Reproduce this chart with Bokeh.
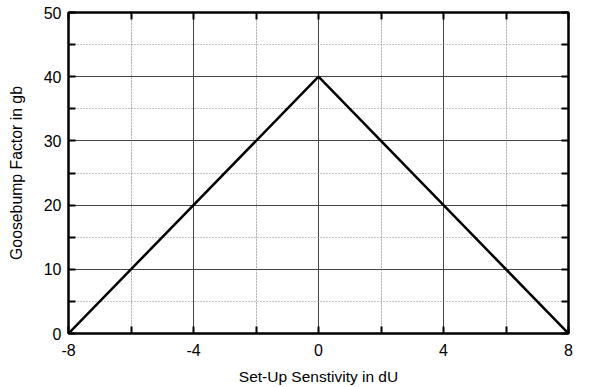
from bokeh.plotting import figure
from bokeh.models import LinearAxis, FixedTicker, Grid, Range1d
from bokeh.embed import file_html
from bokeh.resources import INLINE

# data
x_vals = [-8, 0, 8]
y_vals = [0, 40, 0]
x_major = [-8, -4, 0, 4, 8]
x_minor = [-6, -2, 2, 6]
y_major = [0, 10, 20, 30, 40, 50]
y_minor = [5, 15, 25, 35, 45]
x_labels = {-8: "-8", -4: "-4", 0: "0", 4: "4", 8: "8"}
x_title = "Set-Up Senstivity in dU"
y_title = "Goosebump Factor in gb"

FONT = "Liberation Sans"

p = figure(width=600, height=387, x_range=Range1d(-8, 8), y_range=Range1d(0, 50),
           output_backend="svg", toolbar_location=None,
           x_axis_location=None, y_axis_location=None)
p.min_border_left = 68
p.min_border_right = 32
p.min_border_top = 12
p.min_border_bottom = 53
p.background_fill_color = "white"
p.border_fill_color = "white"
p.outline_line_color = "black"
p.outline_line_width = 2

xt = FixedTicker(ticks=x_major, minor_ticks=x_minor)
yt = FixedTicker(ticks=y_major, minor_ticks=y_minor)


def style_axis(ax, labels=True):
    ax.axis_line_color = "black"
    ax.axis_line_width = 2
    ax.major_tick_in = 7
    ax.major_tick_out = 0
    ax.minor_tick_in = 7
    ax.minor_tick_out = 0
    ax.major_tick_line_color = "black"
    ax.minor_tick_line_color = "black"
    ax.major_tick_line_width = 2
    ax.minor_tick_line_width = 2
    if labels:
        ax.major_label_text_font = FONT
        ax.major_label_text_font_size = "16px"
        ax.major_label_text_color = "black"
        ax.axis_label_text_font = FONT
        ax.axis_label_text_font_size = "15.5px"
        ax.axis_label_text_font_style = "normal"
        ax.axis_label_text_color = "black"
    else:
        ax.major_label_text_font_size = "0px"
        ax.major_label_text_color = None
        ax.major_label_standoff = 0


bottom = LinearAxis(ticker=xt, axis_label=x_title, major_label_overrides=x_labels)
style_axis(bottom)
bottom.major_label_standoff = 10
bottom.axis_label_standoff = 9
left = LinearAxis(ticker=yt, axis_label=y_title)
style_axis(left)
left.major_label_standoff = 7
left.axis_label_standoff = 16
left.axis_label_text_font_size = "15.8px"
top = LinearAxis(ticker=xt)
style_axis(top, labels=False)
right = LinearAxis(ticker=yt)
style_axis(right, labels=False)

p.add_layout(bottom, "below")
p.add_layout(left, "left")
p.add_layout(top, "above")
p.add_layout(right, "right")

# grids
p.add_layout(Grid(dimension=0, ticker=FixedTicker(ticks=x_major),
                  grid_line_color="#444444", grid_line_width=1))
p.add_layout(Grid(dimension=1, ticker=FixedTicker(ticks=y_major),
                  grid_line_color="#444444", grid_line_width=1))
p.add_layout(Grid(dimension=0, ticker=FixedTicker(ticks=x_minor),
                  grid_line_color="#888888", grid_line_width=1, grid_line_dash="1 2"))
p.add_layout(Grid(dimension=1, ticker=FixedTicker(ticks=y_minor),
                  grid_line_color="#888888", grid_line_width=1, grid_line_dash="1 2"))

p.line(x_vals, y_vals, line_color="black", line_width=2.5)

open("out.html", "w").write(file_html(p, INLINE))
